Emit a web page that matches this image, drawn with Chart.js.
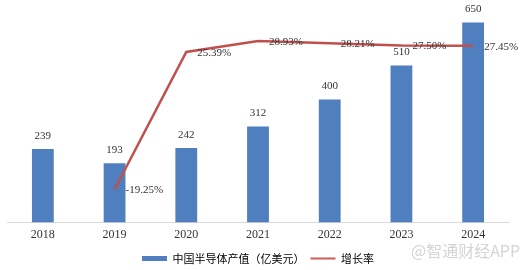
<!DOCTYPE html>
<html>
<head>
<meta charset="utf-8">
<script src="https://cdn.jsdelivr.net/npm/chart.js@4.4.0/dist/chart.umd.min.js"></script>
<style>
  html, body { margin:0; padding:0; background:#fff; }
  #wrap { position:relative; width:529px; height:270px; }
  #mark { position:absolute; left:411px; top:238px; font:16px "Noto Sans CJK SC", sans-serif; color:#d4d4d4; }
</style>
</head>
<body>
<div id="wrap">
  <canvas id="c" width="529" height="270"></canvas>
  <div id="mark">@智通财经APP</div>
</div>
<script>
const years = ['2018', '2019', '2020', '2021', '2022', '2023', '2024'];
const output = [239, 193, 242, 312, 400, 510, 650];
const growth = [null, -19.25, 25.39, 28.93, 28.21, 27.50, 27.45];

const serif = '"Liberation Serif", "Times New Roman", serif';

// draws the value labels next to bars and line points
const valueLabels = {
  id: 'valueLabels',
  afterDatasetsDraw(chart) {
    const ctx = chart.ctx;
    ctx.save();
    ctx.font = '11px ' + serif;
    ctx.fillStyle = '#333';
    chart.getDatasetMeta(0).data.forEach((el, i) => {
      ctx.textAlign = 'center';
      ctx.textBaseline = 'middle';
      ctx.fillText(output[i], el.x, el.y - 13);
    });
    chart.getDatasetMeta(1).data.forEach((el, i) => {
      if (growth[i] === null) return;
      ctx.textAlign = 'left';
      ctx.textBaseline = 'middle';
      ctx.fillText(growth[i].toFixed(2) + '%', el.x + 11, el.y + 1);
    });
    ctx.restore();
  }
};

new Chart(document.getElementById('c'), {
  data: {
    labels: years,
    datasets: [
      {
        type: 'bar',
        label: '中国半导体产值（亿美元）',
        data: output,
        backgroundColor: '#4f7fbe',
        yAxisID: 'y',
        categoryPercentage: 0.8,
        barPercentage: 0.38,
        order: 2
      },
      {
        type: 'line',
        label: '增长率',
        data: growth,
        borderColor: '#c0504d',
        backgroundColor: '#c0504d',
        borderWidth: 2.5,
        pointRadius: 0,
        tension: 0,
        spanGaps: false,
        yAxisID: 'y2',
        order: 1
      }
    ]
  },
  options: {
    responsive: false,
    animation: false,
    layout: { padding: { left: 7, right: 20, top: 7, bottom: -4 } },
    scales: {
      x: {
        grid: { display: false, drawTicks: false },
        border: { color: '#d9d9d9', width: 1 },
        ticks: { color: '#333', font: { family: serif, size: 12 }, padding: 5 }
      },
      y: { display: false, min: 0, max: 700 },
      y2: { display: false, min: -30, max: 40, position: 'right' }
    },
    plugins: {
      tooltip: { enabled: false },
      legend: {
        position: 'bottom',
        labels: {
          font: { family: '"Noto Sans CJK SC", sans-serif', size: 11 },
          color: '#333',
          usePointStyle: true,
          pointStyleWidth: 25,
          boxHeight: 5,
          padding: 6,
          generateLabels(chart) {
            return chart.data.datasets.map((ds, i) => ({
              text: ds.label,
              fillStyle: ds.backgroundColor,
              strokeStyle: ds.type === 'line' ? '#cc5a58' : ds.backgroundColor,
              lineWidth: ds.type === 'line' ? 2 : 0,
              pointStyle: ds.type === 'line' ? 'line' : 'rect',
              datasetIndex: i,
              hidden: false
            }));
          }
        }
      }
    }
  },
  plugins: [valueLabels]
});
</script>
</body>
</html>
